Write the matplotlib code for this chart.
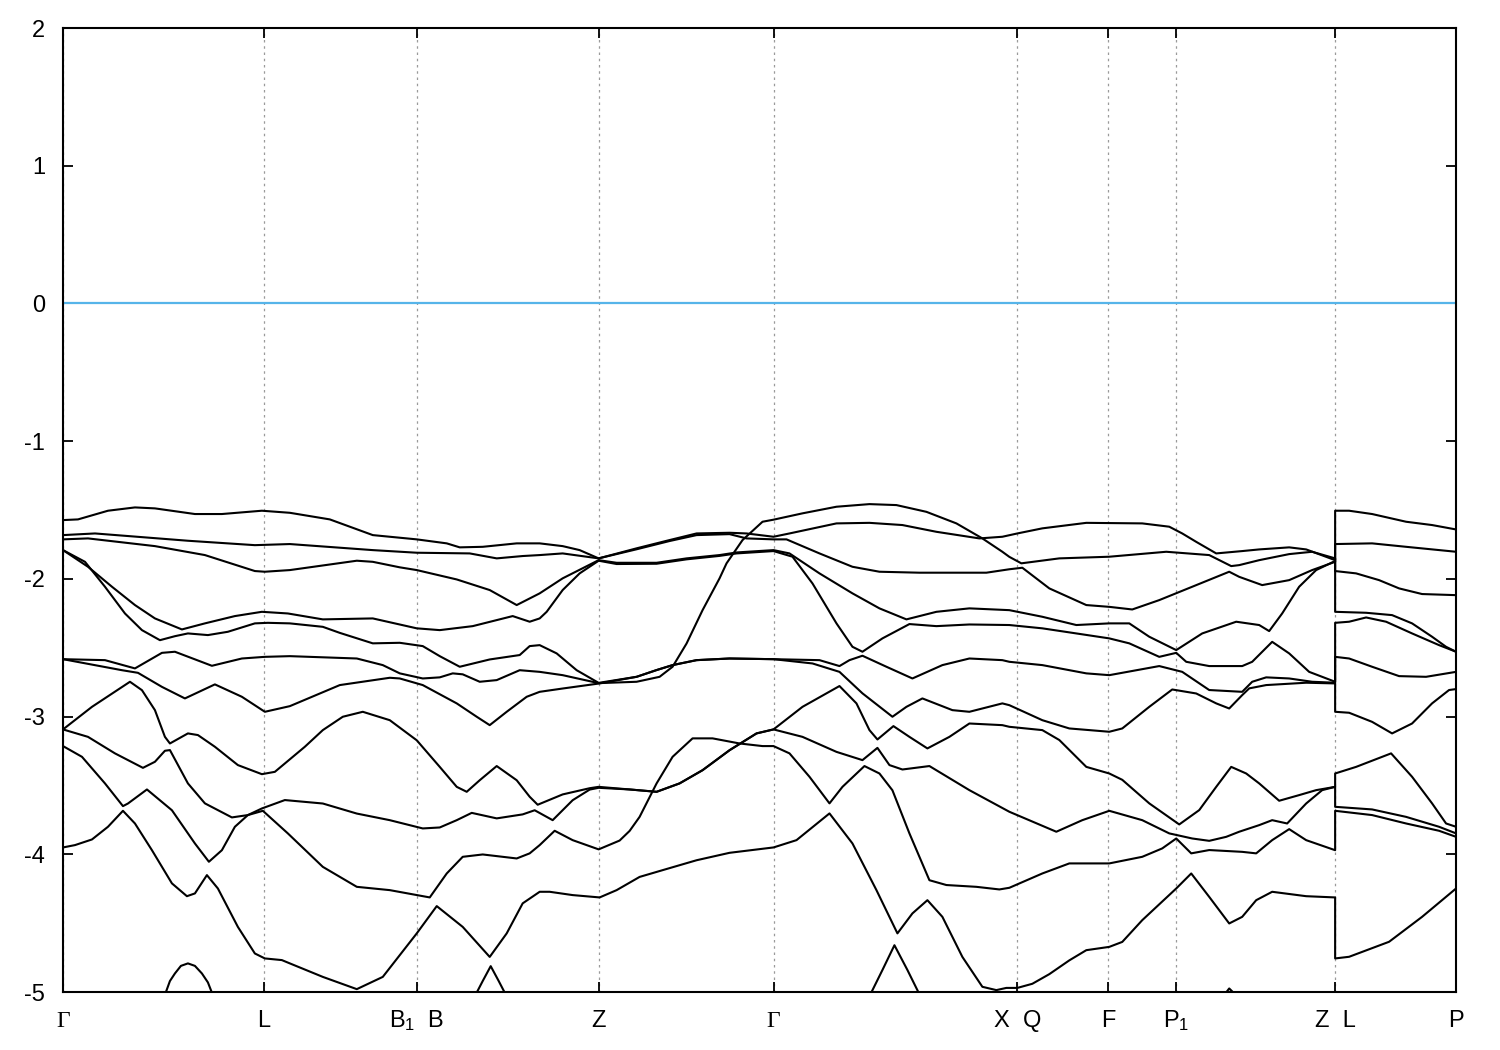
import numpy as np
import matplotlib
matplotlib.use('Agg')
import matplotlib.pyplot as plt

plt.rcParams['font.family'] = ['Liberation Sans', 'DejaVu Sans']
plt.rcParams['mathtext.default'] = 'regular'
plt.rcParams['axes.unicode_minus'] = False

# high-symmetry points along the k-path
kpoints = [0.00, 2.01, 3.54, 5.36, 7.11, 9.55, 10.46, 11.14, 12.73, 13.94]
klabels = ['\u0393', 'L', 'B$_1$  B', 'Z', '\u0393', 'X  Q', 'F', 'P$_1$', 'Z  L', 'P']
yticks = [-5, -4, -3, -2, -1, 0, 1, 2]

# bands, (k, E) pairs
band1 = [(0.00, -1.573), (0.15, -1.568), (0.45, -1.505), (0.72, -1.481), (0.92, -1.488), (1.32, -1.529), (1.59, -1.529),
         (1.99, -1.505), (2.27, -1.520), (2.67, -1.568), (3.10, -1.682), (3.54, -1.713), (3.84, -1.742), (3.97, -1.771),
         (4.20, -1.767), (4.54, -1.742), (4.77, -1.742), (5.00, -1.762), (5.17, -1.791), (5.36, -1.851), (5.74, -1.778),
         (6.07, -1.718), (6.34, -1.670), (6.67, -1.665), (6.84, -1.670), (7.11, -1.694), (7.27, -1.670), (7.74, -1.597),
         (8.07, -1.593), (8.40, -1.609), (8.74, -1.658), (9.17, -1.706), (9.40, -1.694), (9.55, -1.670), (9.80, -1.633),
         (10.24, -1.593), (10.80, -1.597), (11.07, -1.621), (11.20, -1.670), (11.34, -1.731), (11.54, -1.815),
         (11.80, -1.798), (11.97, -1.786), (12.27, -1.771), (12.44, -1.786), (12.73, -1.864),
         (12.73, -1.505), (12.87, -1.505), (13.10, -1.529), (13.44, -1.585), (13.70, -1.609), (13.94, -1.641)]

band2 = [(0.00, -1.682), (0.32, -1.670), (1.25, -1.723), (1.92, -1.755), (2.27, -1.747), (3.10, -1.791), (3.54, -1.810),
         (4.07, -1.815), (4.34, -1.851), (4.60, -1.834), (4.77, -1.827), (5.00, -1.815), (5.36, -1.851), (5.74, -1.785),
         (6.07, -1.725), (6.34, -1.682), (6.67, -1.675), (6.84, -1.706), (7.11, -1.713), (7.24, -1.713), (7.57, -1.815),
         (7.90, -1.912), (8.17, -1.948), (8.57, -1.955), (9.24, -1.955), (9.47, -1.930), (9.60, -1.919), (9.87, -2.069),
         (10.24, -2.190), (10.47, -2.203), (10.70, -2.222), (10.97, -2.154), (11.30, -2.057), (11.67, -1.948),
         (11.77, -1.985), (12.00, -2.045), (12.27, -2.009), (12.50, -1.936), (12.73, -1.876),
         (12.73, -1.747), (13.10, -1.742), (13.44, -1.767), (13.94, -1.803)]

band3 = [(0.00, -1.713), (0.25, -1.706), (0.92, -1.762), (1.42, -1.827), (1.92, -1.943), (2.02, -1.948), (2.27, -1.936),
         (2.94, -1.868), (3.10, -1.876), (3.37, -1.916), (3.54, -1.936), (3.94, -2.004), (4.27, -2.081), (4.54, -2.190),
         (4.77, -2.105), (5.00, -1.996), (5.36, -1.864), (5.54, -1.883), (5.94, -1.883), (6.24, -1.851), (6.57, -1.827),
         (6.74, -1.808), (7.11, -1.791), (7.27, -1.815), (7.57, -1.960), (7.90, -2.105), (8.17, -2.214), (8.44, -2.294),
         (8.74, -2.239), (9.07, -2.214), (9.47, -2.227), (9.80, -2.275), (10.14, -2.335), (10.47, -2.323),
         (10.67, -2.323), (10.87, -2.420), (11.14, -2.517), (11.40, -2.396), (11.74, -2.311), (11.97, -2.335),
         (12.07, -2.379), (12.20, -2.251), (12.37, -2.057), (12.54, -1.936), (12.73, -1.870),
         (12.73, -1.943), (12.94, -1.960), (13.17, -2.009), (13.37, -2.069), (13.60, -2.110), (13.94, -2.118)]

band4 = [(0.00, -1.791), (0.22, -1.876), (0.42, -2.057), (0.62, -2.251), (0.79, -2.372), (0.97, -2.445), (1.12, -2.416),
         (1.25, -2.396), (1.45, -2.408), (1.65, -2.384), (1.92, -2.323), (2.05, -2.319), (2.27, -2.323), (2.60, -2.348),
         (2.77, -2.392), (3.10, -2.468), (3.37, -2.464), (3.60, -2.488), (3.77, -2.561), (3.97, -2.638), (4.27, -2.585),
         (4.57, -2.553), (4.67, -2.488), (4.77, -2.481), (4.94, -2.541), (5.14, -2.663), (5.36, -2.755), (5.74, -2.711),
         (5.94, -2.662), (6.10, -2.626), (6.34, -2.590), (6.67, -2.578), (7.11, -2.583), (7.57, -2.590), (7.77, -2.633),
         (7.87, -2.590), (8.00, -2.558), (8.24, -2.638), (8.50, -2.723), (8.80, -2.626), (9.07, -2.578), (9.40, -2.590),
         (9.47, -2.602), (9.80, -2.626), (10.24, -2.686), (10.47, -2.699), (10.97, -2.633), (11.20, -2.675),
         (11.47, -2.807), (11.80, -2.820), (11.90, -2.747), (12.04, -2.715), (12.27, -2.723), (12.50, -2.747),
         (12.73, -2.754),
         (12.73, -2.319), (12.87, -2.311), (13.04, -2.280), (13.24, -2.311), (13.50, -2.396), (13.77, -2.481), (13.94, -2.529)]

band5 = [(0.00, -1.791), (0.25, -1.912), (0.49, -2.057), (0.72, -2.190), (0.92, -2.287), (1.19, -2.367), (1.42, -2.323),
         (1.72, -2.270), (1.99, -2.239), (2.25, -2.251), (2.60, -2.294), (3.10, -2.287), (3.54, -2.359), (3.77, -2.372),
         (4.10, -2.343), (4.50, -2.270), (4.67, -2.311), (4.77, -2.287), (4.84, -2.239), (5.00, -2.081), (5.17, -1.960),
         (5.36, -1.868), (5.54, -1.892), (5.94, -1.890), (6.24, -1.858), (6.57, -1.833), (6.74, -1.815), (7.11, -1.798),
         (7.30, -1.839), (7.50, -2.033), (7.74, -2.323), (7.90, -2.493), (8.00, -2.529), (8.20, -2.432), (8.47, -2.328),
         (8.74, -2.343), (9.07, -2.331), (9.47, -2.335), (9.80, -2.359), (10.14, -2.396), (10.47, -2.432),
         (10.67, -2.468), (10.97, -2.566), (11.14, -2.537), (11.24, -2.602), (11.47, -2.633), (11.80, -2.633),
         (11.90, -2.602), (12.10, -2.457), (12.27, -2.541), (12.47, -2.675), (12.73, -2.747),
         (12.73, -2.566), (12.87, -2.578), (13.10, -2.638), (13.37, -2.706), (13.64, -2.711), (13.94, -2.675)]

band6 = [(0.00, -2.583), (0.42, -2.590), (0.72, -2.650), (0.99, -2.537), (1.12, -2.529), (1.49, -2.631), (1.79, -2.578),
         (2.02, -2.566), (2.27, -2.561), (2.94, -2.578), (3.20, -2.626), (3.37, -2.686), (3.60, -2.723), (3.77, -2.715),
         (3.90, -2.686), (4.00, -2.693), (4.17, -2.747), (4.34, -2.735), (4.57, -2.663), (4.77, -2.675), (5.00, -2.699),
         (5.36, -2.757), (5.74, -2.747), (5.97, -2.711), (6.10, -2.638), (6.24, -2.469), (6.40, -2.227), (6.57, -1.996),
         (6.64, -1.887), (6.80, -1.718), (7.00, -1.585), (7.11, -1.570), (7.40, -1.524), (7.74, -1.476), (8.07, -1.457),
         (8.34, -1.464), (8.64, -1.513), (8.94, -1.597), (9.20, -1.706), (9.40, -1.803), (9.47, -1.840), (9.59, -1.887),
         (9.97, -1.851), (10.47, -1.839), (11.04, -1.803), (11.47, -1.827), (11.69, -1.907), (11.77, -1.900),
         (11.97, -1.864), (12.27, -1.820), (12.50, -1.803), (12.73, -1.851),
         (12.73, -2.239), (13.04, -2.246), (13.30, -2.263), (13.50, -2.323), (13.70, -2.420), (13.84, -2.493), (13.94, -2.529)]

band7 = [(0.00, -2.583), (0.59, -2.663), (0.75, -2.682), (0.99, -2.784), (1.22, -2.868), (1.52, -2.766), (1.79, -2.856),
         (2.02, -2.965), (2.27, -2.924), (2.77, -2.771), (3.27, -2.718), (3.37, -2.723), (3.60, -2.771), (3.94, -2.904),
         (4.14, -3.001), (4.27, -3.062), (4.44, -2.965), (4.64, -2.856), (4.77, -2.820), (5.00, -2.796), (5.36, -2.760),
         (5.74, -2.711), (5.94, -2.662), (6.10, -2.626), (6.34, -2.590), (6.67, -2.578), (7.11, -2.583), (7.50, -2.614),
         (7.77, -2.675), (8.00, -2.831), (8.30, -3.001), (8.44, -2.929), (8.60, -2.868), (8.90, -2.953), (9.07, -2.965),
         (9.40, -2.904), (9.47, -2.917), (9.80, -3.026), (10.07, -3.086), (10.47, -3.110), (10.60, -3.086),
         (10.87, -2.929), (11.10, -2.803), (11.34, -2.832), (11.54, -2.904), (11.67, -2.941), (11.80, -2.844),
         (11.87, -2.795), (12.04, -2.771), (12.44, -2.754), (12.73, -2.759),
         (12.73, -2.965), (12.87, -2.972), (13.10, -3.038), (13.30, -3.122), (13.50, -3.050), (13.70, -2.904),
         (13.87, -2.807), (13.94, -2.800)]

band8 = [(0.00, -3.093), (0.29, -2.929), (0.67, -2.747), (0.79, -2.808), (0.92, -2.953), (1.02, -3.147), (1.07, -3.195),
         (1.25, -3.122), (1.35, -3.134), (1.52, -3.219), (1.75, -3.352), (1.99, -3.418), (2.12, -3.401), (2.42, -3.219),
         (2.60, -3.098), (2.80, -3.001), (3.00, -2.965), (3.27, -3.026), (3.54, -3.172), (3.77, -3.365), (3.94, -3.510),
         (4.04, -3.546), (4.17, -3.462), (4.34, -3.359), (4.54, -3.462), (4.67, -3.582), (4.75, -3.640), (5.00, -3.565),
         (5.27, -3.520), (5.36, -3.510), (5.67, -3.529), (5.94, -3.546), (6.17, -3.485), (6.40, -3.389), (6.67, -3.244),
         (6.94, -3.122), (7.11, -3.093), (7.40, -2.929), (7.77, -2.778), (7.94, -2.904), (8.07, -3.098), (8.15, -3.166),
         (8.31, -3.069), (8.47, -3.147), (8.65, -3.231), (8.87, -3.147), (9.07, -3.050), (9.40, -3.062), (9.47, -3.074),
         (9.80, -3.098), (9.97, -3.170), (10.24, -3.365), (10.47, -3.413), (10.60, -3.459), (10.87, -3.630),
         (11.17, -3.783), (11.37, -3.679), (11.54, -3.510), (11.69, -3.365), (11.84, -3.413), (11.97, -3.485),
         (12.17, -3.611), (12.37, -3.570), (12.54, -3.534), (12.73, -3.510),
         (12.73, -3.413), (12.94, -3.365), (13.29, -3.267), (13.50, -3.437), (13.70, -3.630), (13.84, -3.776), (13.94, -3.800)]

band9 = [(0.00, -3.093), (0.25, -3.147), (0.52, -3.267), (0.80, -3.372), (0.92, -3.328), (1.02, -3.248), (1.07, -3.243),
         (1.25, -3.485), (1.42, -3.630), (1.69, -3.732), (1.85, -3.715), (1.99, -3.667), (2.22, -3.606), (2.60, -3.631),
         (2.94, -3.704), (3.27, -3.752), (3.60, -3.812), (3.77, -3.805), (3.94, -3.752), (4.09, -3.699), (4.34, -3.739),
         (4.60, -3.710), (4.72, -3.680), (4.90, -3.752), (5.10, -3.607), (5.27, -3.530), (5.36, -3.517), (5.67, -3.529),
         (5.94, -3.546), (6.17, -3.485), (6.40, -3.389), (6.67, -3.244), (6.94, -3.122), (7.11, -3.093), (7.40, -3.147),
         (7.74, -3.256), (8.00, -3.316), (8.15, -3.227), (8.27, -3.352), (8.40, -3.384), (8.67, -3.359), (9.07, -3.534),
         (9.47, -3.691), (9.94, -3.836), (10.20, -3.752), (10.47, -3.684), (10.80, -3.752), (11.07, -3.848),
         (11.30, -3.885), (11.47, -3.902), (11.64, -3.873), (11.77, -3.836), (11.97, -3.788), (12.10, -3.752),
         (12.25, -3.776), (12.44, -3.631), (12.60, -3.534), (12.73, -3.510),
         (12.73, -3.655), (13.10, -3.674), (13.44, -3.728), (13.77, -3.800), (13.94, -3.848)]

band10 = [(0.00, -3.214), (0.19, -3.292), (0.42, -3.485), (0.60, -3.650), (0.65, -3.631), (0.84, -3.529), (1.09, -3.680),
          (1.32, -3.921), (1.46, -4.054), (1.59, -3.970), (1.72, -3.800), (1.85, -3.715), (2.00, -3.684), (2.25, -3.848),
          (2.60, -4.091), (2.94, -4.236), (3.27, -4.260), (3.67, -4.313), (3.84, -4.139), (4.00, -4.018), (4.20, -4.001),
          (4.54, -4.030), (4.67, -3.993), (4.77, -3.933), (4.92, -3.829), (5.10, -3.897), (5.36, -3.964), (5.57, -3.900),
          (5.67, -3.830), (5.77, -3.728), (5.94, -3.485), (6.10, -3.292), (6.30, -3.158), (6.50, -3.158), (6.77, -3.195),
          (7.00, -3.214), (7.11, -3.214), (7.27, -3.267), (7.47, -3.437), (7.67, -3.630), (7.80, -3.510), (8.02, -3.359),
          (8.17, -3.413), (8.30, -3.535), (8.47, -3.848), (8.67, -4.188), (8.84, -4.223), (9.14, -4.236), (9.37, -4.255),
          (9.47, -4.243), (9.80, -4.139), (10.07, -4.066), (10.47, -4.066), (10.80, -4.018), (11.00, -3.957),
          (11.14, -3.885), (11.29, -3.993), (11.47, -3.969), (11.80, -3.982), (11.94, -3.993), (12.10, -3.897),
          (12.27, -3.817), (12.44, -3.897), (12.73, -3.970),
          (12.73, -3.684), (13.10, -3.715), (13.44, -3.776), (13.77, -3.829), (13.94, -3.873)]

band11 = [(0.00, -3.950), (0.12, -3.933), (0.29, -3.892), (0.45, -3.800), (0.60, -3.684), (0.72, -3.776), (0.89, -3.970),
          (1.09, -4.211), (1.24, -4.304), (1.32, -4.284), (1.44, -4.151), (1.55, -4.248), (1.75, -4.527), (1.92, -4.720),
          (2.02, -4.756), (2.19, -4.768), (2.27, -4.792), (2.60, -4.890), (2.94, -4.979), (3.20, -4.890), (3.54, -4.574),
          (3.74, -4.376), (4.00, -4.527), (4.27, -4.745), (4.44, -4.574), (4.60, -4.356), (4.77, -4.272), (4.87, -4.272),
          (5.10, -4.296), (5.37, -4.313), (5.54, -4.260), (5.77, -4.164), (6.00, -4.115), (6.34, -4.043), (6.67, -3.989),
          (7.11, -3.950), (7.34, -3.897), (7.67, -3.703), (7.90, -3.921), (8.14, -4.260), (8.35, -4.574), (8.50, -4.429),
          (8.65, -4.333), (8.80, -4.454), (9.00, -4.745), (9.20, -4.962), (9.34, -4.986), (9.44, -4.970), (9.55, -4.970),
          (9.70, -4.940), (9.87, -4.870), (10.07, -4.770), (10.24, -4.696), (10.47, -4.672), (10.60, -4.636),
          (10.80, -4.478), (11.14, -4.248), (11.29, -4.139), (11.47, -4.309), (11.67, -4.502), (11.80, -4.454),
          (11.94, -4.333), (12.10, -4.272), (12.44, -4.304), (12.73, -4.313),
          (12.73, -4.756), (12.87, -4.744), (13.27, -4.635), (13.60, -4.454), (13.94, -4.248)]

# deep bands that only peek above -5 eV
arch1 = [(1.00, -5.06), (1.07, -4.92), (1.12, -4.865), (1.18, -4.81), (1.25, -4.792), (1.32, -4.81), (1.39, -4.865),
         (1.45, -4.93), (1.52, -5.06)]
arch2 = [(4.10, -5.06), (4.20, -4.92), (4.28, -4.812), (4.36, -4.92), (4.46, -5.06)]
arch3 = [(8.05, -5.06), (8.20, -4.84), (8.32, -4.66), (8.45, -4.84), (8.60, -5.06)]
arch4 = [(11.58, -5.06), (11.67, -4.974), (11.79, -5.06)]

bands = [band1, band2, band3, band4, band5, band6, band7, band8, band9, band10, band11,
         arch1, arch2, arch3, arch4]

fig = plt.figure(figsize=(15, 10.5), dpi=100)
ax = fig.add_axes([0.042, 0.0552, 0.9287, 0.9181])

for b in bands:
    k, e = np.array(b).T
    ax.plot(k, e, color='black', lw=1.5, solid_joinstyle='round')

ax.axhline(0, color='#56b4e9', lw=1.6)

ax.set_xlim(kpoints[0], kpoints[-1])
ax.set_ylim(-5, 2)
ax.set_xticks(kpoints)
ax.set_xticklabels(klabels)
ax.set_yticks(yticks)
for lab in ax.get_xticklabels():
    lab.set_verticalalignment('baseline')
    if lab.get_text() == '\u0393':
        lab.set_fontfamily('Liberation Serif')

ax.grid(axis='x', color='#9a9a9a', ls=(0, (2, 3)), lw=0.9)
ax.tick_params(direction='in', length=7, width=1.3, top=True, right=True, labelsize=17)
ax.tick_params(axis='x', pad=25)
ax.tick_params(axis='y', pad=13)
for s in ax.spines.values():
    s.set_linewidth(1.5)

fig.savefig('out.png', dpi=100)
